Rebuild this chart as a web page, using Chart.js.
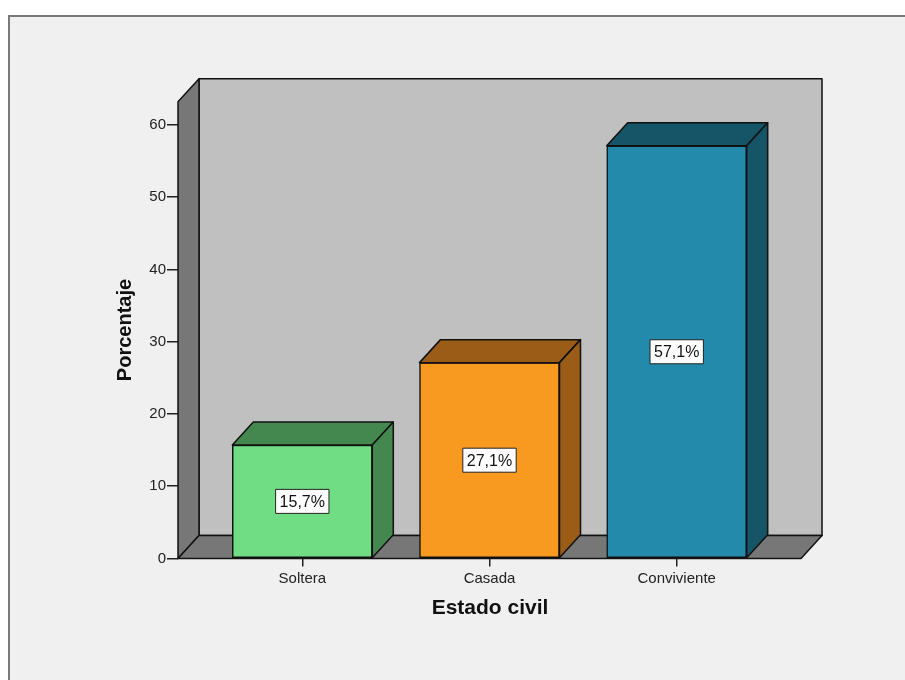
<!DOCTYPE html>
<html>
<head>
<meta charset="utf-8">
<script src="https://cdn.jsdelivr.net/npm/chart.js@4"></script>
<style>
  html, body { margin: 0; padding: 0; background: #ffffff; }
  #wrap { width: 905px; height: 680px; }
</style>
</head>
<body>
<div id="wrap"><canvas id="myChart" width="905" height="680"></canvas></div>
<script>
// datos del grafico
const categories = ['Soltera', 'Casada', 'Conviviente'];
const percentages = [15.7, 27.1, 57.1];
const yTicks = [0, 10, 20, 30, 40, 50, 60];

const frontColors = ['#70dc84', '#f89a20', '#238aab'];
const darkColors = ['#44874f', '#9a5c16', '#165467'];

// profundidad del efecto 3D
const DX = 21;
const DY = -23;
const FONT = '"Liberation Sans", Arial, sans-serif';

function poly(ctx, pts, fill) {
    ctx.beginPath();
    ctx.moveTo(pts[0][0], pts[0][1]);
    for (let i = 1; i < pts.length; i++) ctx.lineTo(pts[i][0], pts[i][1]);
    ctx.closePath();
    ctx.fillStyle = fill;
    ctx.fill();
    ctx.stroke();
}

const box3d = {
    id: 'box3d',
    beforeDraw(chart) {
        const ctx = chart.ctx;
        ctx.save();
        ctx.fillStyle = '#ffffff';
        ctx.fillRect(0, 0, chart.width, chart.height);
        ctx.fillStyle = '#f0f0f0';
        ctx.fillRect(9, 16, chart.width, chart.height);
        ctx.strokeStyle = '#7a7a7a';
        ctx.lineWidth = 2;
        ctx.beginPath();
        ctx.moveTo(9, chart.height + 2);
        ctx.lineTo(9, 16);
        ctx.lineTo(chart.width + 2, 16);
        ctx.stroke();
        ctx.restore();
    },
    beforeDatasetsDraw(chart) {
        const ctx = chart.ctx;
        const a = chart.chartArea;
        const L = a.left, R = a.right, T = a.top, B = a.bottom;
        ctx.save();
        ctx.strokeStyle = '#111';
        ctx.lineWidth = 1.5;
        ctx.lineJoin = 'round';
        // pared del fondo
        poly(ctx, [[L + DX, T + DY], [R + DX, T + DY], [R + DX, B + DY], [L + DX, B + DY]], '#c0c0c0');
        // pared izquierda
        poly(ctx, [[L, T], [L + DX, T + DY], [L + DX, B + DY], [L, B]], '#777777');
        // piso
        poly(ctx, [[L, B], [L + DX, B + DY], [R + DX, B + DY], [R, B]], '#777777');
        ctx.restore();
    },
    afterDatasetsDraw(chart) {
        const ctx = chart.ctx;
        const meta = chart.getDatasetMeta(0);
        ctx.save();
        ctx.strokeStyle = '#111';
        ctx.lineWidth = 1.5;
        ctx.lineJoin = 'round';
        meta.data.forEach((bar, i) => {
            const w = bar.width;
            const x1 = bar.x - w / 2, x2 = bar.x + w / 2;
            const y = bar.y, base = bar.base;
            // cara superior
            poly(ctx, [[x1, y], [x1 + DX, y + DY], [x2 + DX, y + DY], [x2, y]], darkColors[i]);
            // cara lateral
            poly(ctx, [[x2, y], [x2 + DX, y + DY], [x2 + DX, base + DY], [x2, base]], darkColors[i]);
            // etiqueta
            const txt = percentages[i].toFixed(1).replace('.', ',') + '%';
            ctx.font = '16px ' + FONT;
            const tw = ctx.measureText(txt).width;
            const cy = (y + base) / 2;
            const bw = tw + 8, bh = 24;
            ctx.fillStyle = '#ffffff';
            ctx.fillRect(bar.x - bw / 2, cy - bh / 2, bw, bh);
            ctx.lineWidth = 1;
            ctx.strokeStyle = '#222';
            ctx.strokeRect(bar.x - bw / 2, cy - bh / 2, bw, bh);
            ctx.fillStyle = '#111';
            ctx.textAlign = 'center';
            ctx.textBaseline = 'middle';
            ctx.fillText(txt, bar.x, cy + 1);
            ctx.lineWidth = 1.5;
            ctx.strokeStyle = '#111';
        });
        // titulos de los ejes
        ctx.fillStyle = '#111';
        ctx.font = 'bold 21px ' + FONT;
        ctx.textAlign = 'center';
        ctx.textBaseline = 'middle';
        ctx.fillText('Estado civil', 490, 608);
        ctx.translate(125, 330);
        ctx.rotate(-Math.PI / 2);
        ctx.font = 'bold 20px ' + FONT;
        ctx.fillText('Porcentaje', 0, 0);
        ctx.restore();
    }
};

const ctx = document.getElementById('myChart');
new Chart(ctx, {
    type: 'bar',
    data: {
        datasets: [{
            label: 'Porcentaje',
            data: percentages.map((v, i) => ({ x: i, y: v })),
            backgroundColor: frontColors,
            borderColor: '#111',
            borderWidth: 1.5,
            borderSkipped: false,
            barThickness: 140
        }]
    },
    options: {
        responsive: false,
        animation: false,
        layout: {
            padding: { left: 118, right: 104, top: 101.7, bottom: 81.5 }
        },
        plugins: {
            legend: { display: false },
            tooltip: { enabled: false }
        },
        scales: {
            x: {
                type: 'linear',
                offset: false,
                min: -0.664,
                max: 2.664,
                afterBuildTicks: s => { s.ticks = categories.map((c, i) => ({ value: i })); },
                afterFit: s => { s.height = 40; },
                border: { display: false },
                grid: { offset: false, drawOnChartArea: false, drawTicks: true, tickLength: 8, color: '#222', lineWidth: 1.5 },
                ticks: {
                    callback: v => categories[v],
                    color: '#222',
                    padding: 3,
                    maxRotation: 0,
                    font: { family: FONT, size: 15 }
                }
            },
            y: {
                min: 0,
                max: 63.2,
                afterBuildTicks: s => { s.ticks = yTicks.map(v => ({ value: v })); },
                afterFit: s => { s.width = 60; },
                border: { display: false },
                grid: { drawOnChartArea: false, drawTicks: true, tickLength: 11, color: '#222', lineWidth: 1.5 },
                ticks: {
                    color: '#222',
                    padding: 1,
                    font: { family: FONT, size: 15 }
                }
            }
        }
    },
    plugins: [box3d]
});
</script>
</body>
</html>
